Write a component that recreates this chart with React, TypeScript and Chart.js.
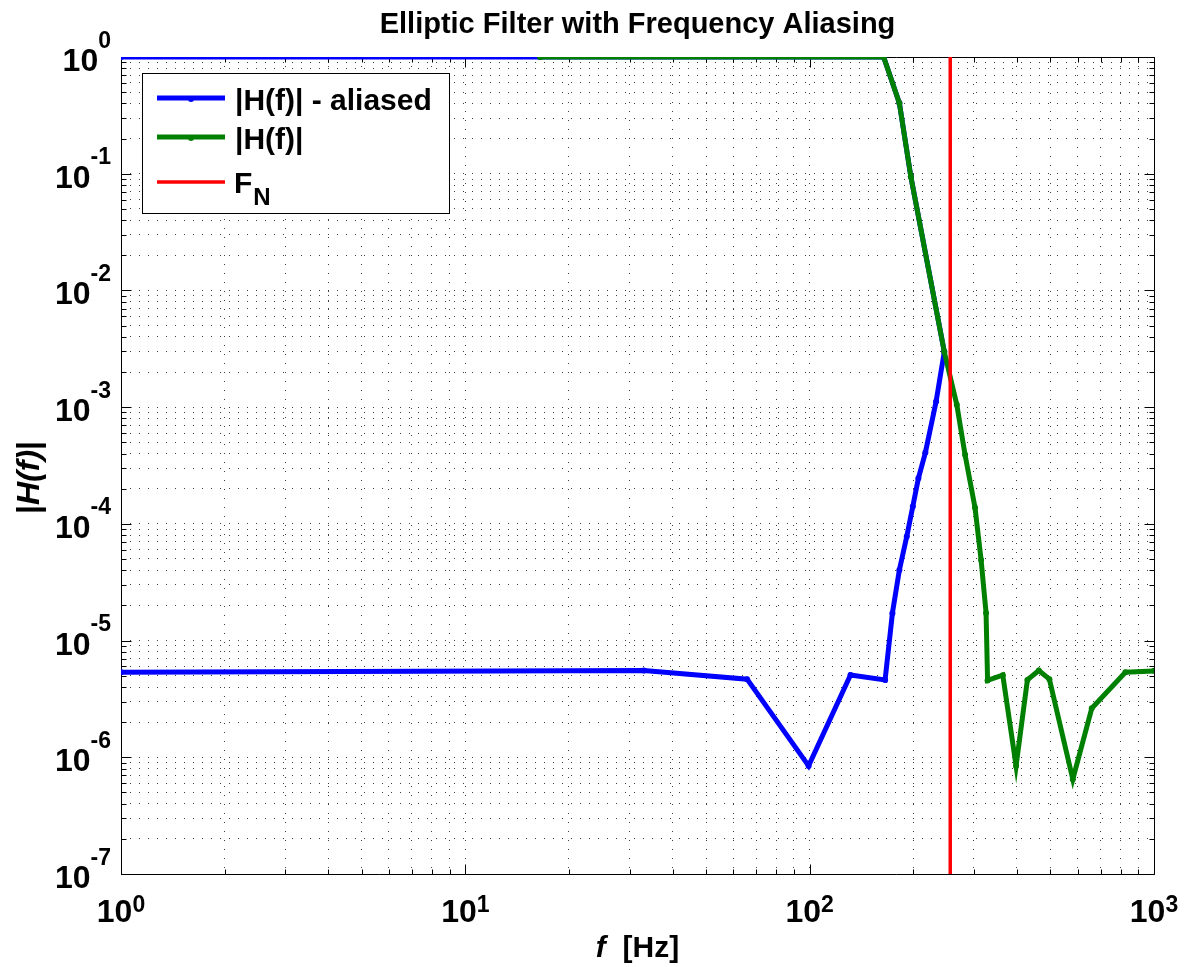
import React, { useEffect, useRef } from "react";
import { Chart, registerables } from "chart.js";

Chart.register(...registerables);

// ---- data ----
// |H(f)| (green)
const freqHz = [16.48, 164, 182.2, 196.7, 246, 267.5, 282.7, 302.2, 314.7, 325.3, 328.6, 363.8, 397.6, 428.9, 462.9, 496.8, 581.1, 659.6, 826.1, 1000];
const magH = [1, 1, 0.4027, 0.0946, 2.978e-3, 1.046e-3, 3.9e-4, 1.371e-4, 4.91e-5, 1.727e-5, 4.56e-6, 5.05e-6, 8.44e-7, 4.6e-6, 5.53e-6, 4.67e-6, 6.49e-7, 2.63e-6, 5.36e-6, 5.5e-6];

// |H(f)| - aliased (blue): passband down to the fold, then the folded image back to low f
const freqAliasedHz = [1, 16.48, 164, 182.2, 196.7, 246, 232.9, 216.8, 206.9, 199.3, 191.4, 182.2, 173.9, 165.6, 131.4, 99.3, 65.8, 33.0, 1];
const magAliased = [1, 1, 1, 0.4027, 0.0946, 2.978e-3, 1.117e-3, 4.08e-4, 2.46e-4, 1.407e-4, 7.78e-5, 4.03e-5, 1.717e-5, 4.6e-6, 5.08e-6, 8.44e-7, 4.67e-6, 5.53e-6, 5.36e-6];

// Nyquist marker (red)
const nyquistHz = 256;
const nyquistSpan = [1e-7, 1];

// axes
const xDecades = [1, 10, 100, 1000];
const xTickExponents = ["0", "1", "2", "3"];
const yDecades = [1e-7, 1e-6, 1e-5, 1e-4, 1e-3, 1e-2, 1e-1, 1];
const yTickExponents = ["-7", "-6", "-5", "-4", "-3", "-2", "-1", "0"];

const titleText = "Elliptic Filter with Frequency Aliasing";
const legendLabels = ["|H(f)| - aliased", "|H(f)|", "F"];
const legendSub = "N";

const FONT = '"Liberation Sans", Arial, Helvetica, sans-serif';
const BLUE = "#0000ff";
const GREEN = "#008000";
const RED = "#ff0000";
const GRID = "rgba(0,0,0,0.75)";
const LW = 5;

function minorGrid(decades: number[]) {
  const out: number[] = [];
  for (let i = 0; i < decades.length; i++) {
    const d = decades[i];
    if (i === decades.length - 1) {
      out.push(d);
    } else {
      for (let m = 1; m <= 9; m++) out.push(d * m);
    }
  }
  return out;
}
const xGrid = minorGrid(xDecades);
const yGrid = minorGrid(yDecades);

const isDecade = (v: number) => {
  const l = Math.log10(v);
  return Math.abs(l - Math.round(l)) < 1e-9;
};

const matlabPlugin = {
  id: "matlabDecor",
  beforeDatasetsDraw(chart: any) {
    const { ctx, chartArea: a, scales } = chart;
    const xs = scales.x;
    const ys = scales.y;
    const L = Math.round(a.left) + 0.5;
    const R = Math.round(a.right) + 0.5;
    const T = Math.round(a.top) + 0.5;
    const B = Math.round(a.bottom) + 0.5;
    ctx.save();
    ctx.strokeStyle = "#000";
    ctx.lineWidth = 1;
    ctx.setLineDash([]);
    ctx.beginPath();
    ctx.moveTo(L, T);
    ctx.lineTo(R, T);
    ctx.lineTo(R, B);
    ctx.lineTo(L, B);
    ctx.closePath();
    ctx.stroke();
    // ticks, inward, all four sides
    ctx.beginPath();
    for (const v of xGrid) {
      const px = Math.round(xs.getPixelForValue(v)) + 0.5;
      const len = isDecade(v) ? 10 : 5;
      ctx.moveTo(px, B);
      ctx.lineTo(px, B - len);
      ctx.moveTo(px, T);
      ctx.lineTo(px, T + len);
    }
    for (const v of yGrid) {
      const py = Math.round(ys.getPixelForValue(v)) + 0.5;
      const len = isDecade(v) ? 10 : 5;
      ctx.moveTo(L, py);
      ctx.lineTo(L + len, py);
      ctx.moveTo(R, py);
      ctx.lineTo(R - len, py);
    }
    ctx.stroke();
    ctx.restore();
  },
  afterDraw(chart: any) {
    const { ctx, chartArea: a, scales } = chart;
    const xs = scales.x;
    const ys = scales.y;
    const baseFont = `bold 32px ${FONT}`;
    const expFont = `bold 23px ${FONT}`;
    ctx.save();
    ctx.fillStyle = "#000";
    ctx.textBaseline = "alphabetic";
    ctx.textAlign = "left";

    // y tick labels
    for (let i = 0; i < yDecades.length; i++) {
      const py = ys.getPixelForValue(yDecades[i]);
      ctx.font = expFont;
      const ew = ctx.measureText(yTickExponents[i]).width;
      ctx.font = baseFont;
      const bw = ctx.measureText("10").width;
      const right = a.left - 10;
      ctx.fillText("10", right - ew - bw, py + 14);
      ctx.font = expFont;
      ctx.fillText(yTickExponents[i], right - ew, py - 9.5);
    }
    // x tick labels
    for (let i = 0; i < xDecades.length; i++) {
      const px = xs.getPixelForValue(xDecades[i]);
      ctx.font = expFont;
      const ew = ctx.measureText(xTickExponents[i]).width;
      ctx.font = baseFont;
      const bw = ctx.measureText("10").width;
      const left = px - (ew + bw) / 2;
      ctx.fillText("10", left, a.bottom + 47.5);
      ctx.font = expFont;
      ctx.fillText(xTickExponents[i], left + bw, a.bottom + 37.5);
    }

    // title
    ctx.font = `bold 29px ${FONT}`;
    ctx.textAlign = "center";
    ctx.fillText(titleText, (a.left + a.right) / 2, 33);

    // x label: f  [Hz]
    ctx.textAlign = "left";
    const fFont = `italic bold 30px ${FONT}`;
    const hzFont = `bold 30px ${FONT}`;
    ctx.font = fFont;
    const fw = ctx.measureText("f").width;
    ctx.font = hzFont;
    const hw = ctx.measureText("  [Hz]").width;
    const xl = (a.left + a.right) / 2 - (fw + hw) / 2;
    ctx.font = fFont;
    ctx.fillText("f", xl, 957);
    ctx.font = hzFont;
    ctx.fillText("  [Hz]", xl + fw, 957);

    // y label: |H(f)| rotated
    const ylFont = `bold 32px ${FONT}`;
    const ylIt = `italic bold 32px ${FONT}`;
    ctx.save();
    ctx.translate(39, (a.top + a.bottom) / 2 + 12);
    ctx.rotate(-Math.PI / 2);
    const parts = [
      { t: "|", f: ylFont },
      { t: "H(f)", f: ylIt },
      { t: "|", f: ylFont },
    ];
    let tw = 0;
    for (const p of parts) {
      ctx.font = p.f;
      tw += ctx.measureText(p.t).width;
    }
    let cx = -tw / 2;
    for (const p of parts) {
      ctx.font = p.f;
      ctx.fillText(p.t, cx, 0);
      cx += ctx.measureText(p.t).width;
    }
    ctx.restore();

    // legend
    const bx = 142.5, by = 73.5, bwid = 307, bh = 140;
    ctx.fillStyle = "#fff";
    ctx.fillRect(bx, by, bwid, bh);
    ctx.strokeStyle = "#000";
    ctx.lineWidth = 1;
    ctx.strokeRect(bx, by, bwid, bh);
    const rows = [
      { y: 98, c: BLUE, w: LW, dot: true },
      { y: 137, c: GREEN, w: LW, dot: true },
      { y: 182, c: RED, w: 3.5, dot: false },
    ];
    rows.forEach((r, i) => {
      ctx.strokeStyle = r.c;
      ctx.lineWidth = r.w;
      ctx.beginPath();
      ctx.moveTo(157, r.y);
      ctx.lineTo(225, r.y);
      ctx.stroke();
      if (r.dot) {
        ctx.fillStyle = r.c;
        ctx.beginPath();
        ctx.arc(191, r.y + 1, 3, 0, Math.PI * 2);
        ctx.fill();
      }
      ctx.fillStyle = "#000";
      ctx.font = `bold 30px ${FONT}`;
      ctx.textAlign = "left";
      if (i < 2) {
        ctx.fillText(legendLabels[i], 235, r.y + 12);
      } else {
        ctx.fillText(legendLabels[i], 234, r.y + 11);
        const Fw = ctx.measureText(legendLabels[i]).width;
        ctx.font = `bold 24px ${FONT}`;
        ctx.fillText(legendSub, 234 + Fw + 1, r.y + 23);
      }
    });
    ctx.restore();
  },
};

export default function App() {
  const ref = useRef<HTMLCanvasElement>(null);
  useEffect(() => {
    if (!ref.current) return;
    const common = {
      fill: false,
      tension: 0,
      pointBorderWidth: 0,
    };
    const chart = new Chart(ref.current, {
      type: "line",
      data: {
        datasets: [
          {
            ...common,
            label: legendLabels[0],
            data: freqAliasedHz.map((f, i) => ({ x: f, y: magAliased[i] })),
            borderColor: BLUE,
            backgroundColor: BLUE,
            pointBackgroundColor: BLUE,
            borderWidth: LW,
            pointRadius: 3,
            order: 2,
          },
          {
            ...common,
            label: legendLabels[1],
            data: freqHz.map((f, i) => ({ x: f, y: magH[i] })),
            borderColor: GREEN,
            backgroundColor: GREEN,
            pointBackgroundColor: GREEN,
            borderWidth: LW,
            pointRadius: 3,
            order: 1,
          },
          {
            ...common,
            label: "F_N",
            data: nyquistSpan.map((v) => ({ x: nyquistHz, y: v })),
            borderColor: RED,
            backgroundColor: RED,
            borderWidth: 3.5,
            pointRadius: 0,
            order: 0,
          },
        ],
      } as any,
      options: {
        animation: false,
        responsive: true,
        maintainAspectRatio: false,
        events: [],
        layout: { padding: { left: 121, right: 34, top: 57, bottom: 93 } },
        plugins: {
          legend: { display: false },
          tooltip: { enabled: false },
          title: { display: false },
        },
        scales: {
          x: {
            type: "logarithmic",
            min: 1,
            max: 1000,
            afterBuildTicks: (s: any) => {
              s.ticks = xGrid.map((v) => ({ value: v }));
            },
            afterFit: (s: any) => {
              s.height = 0;
            },
            ticks: { display: false },
            grid: { color: GRID, lineWidth: 1, drawTicks: false },
            border: { display: false, dash: [1, 8] },
          },
          y: {
            type: "logarithmic",
            min: 1e-7,
            max: 1,
            afterBuildTicks: (s: any) => {
              s.ticks = yGrid.map((v) => ({ value: v }));
            },
            afterFit: (s: any) => {
              s.width = 0;
            },
            ticks: { display: false },
            grid: { color: GRID, lineWidth: 1, drawTicks: false },
            border: { display: false, dash: [1, 8] },
          },
        },
      } as any,
      plugins: [matlabPlugin],
    });
    return () => chart.destroy();
  }, []);
  return (
    <div style={{ position: "absolute", left: 0, top: 0, width: 1188, height: 967, background: "#fff" }}>
      <canvas ref={ref} />
    </div>
  );
}
